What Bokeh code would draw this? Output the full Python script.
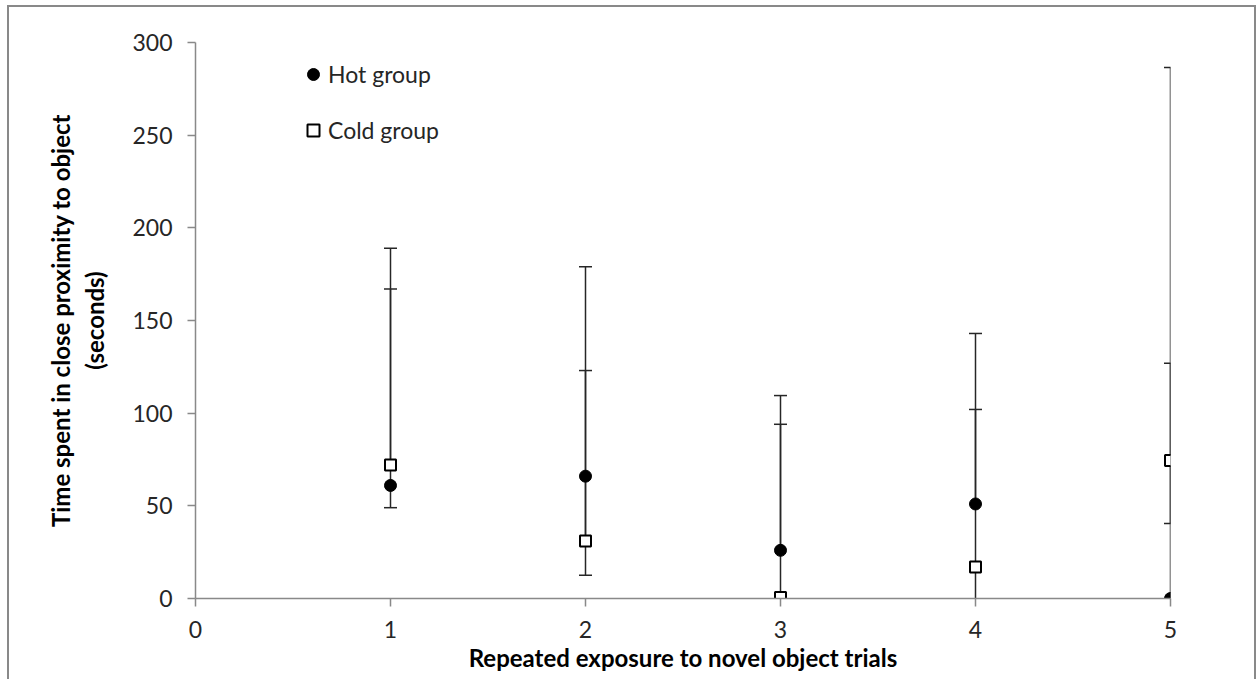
import numpy as np
from bokeh.plotting import figure
from bokeh.models import (ColumnDataSource, Legend, LegendItem,
                          Range1d, FixedTicker)
from bokeh.embed import file_html
from bokeh.resources import INLINE

NaN = float("nan")

# ---- data ----
trials = [1, 2, 3, 4, 5]
hot_mean = [61, 66, 26, 51, 0]
cold_mean = [72, 31, 0.5, 17, 74.5]
hot_upper = [167, 123, 94, 102, 127]
hot_lower = [49, 12.5, NaN, NaN, NaN]        # NaN: no lower bar drawn
cold_upper = [189, 179, 109.5, 143, 286.5]
cold_lower = [NaN, NaN, NaN, -109, 40.5]     # below 0 is clipped by the axis
x_ticks = [0, 1, 2, 3, 4, 5]
y_ticks = [0, 50, 100, 150, 200, 250, 300]

FONT = "Lato"
AXIS_GRAY = "#898989"
BAR = "#262626"

p = figure(width=1259, height=679, output_backend="svg", toolbar_location=None,
           x_range=Range1d(0, 5), y_range=Range1d(0, 300),
           min_border_left=195, min_border_right=89, min_border_top=42,
           min_border_bottom=81)
p.background_fill_color = "white"
p.border_fill_alpha = 0
p.outline_line_color = None
p.xgrid.visible = False
p.ygrid.visible = False
# chart-area border (left, top, right; bottom lies outside the picture)
p.styles = {
    "background-color": "white",
    "background-image": ("linear-gradient(#898989,#898989),"
                         "linear-gradient(#898989,#898989),"
                         "linear-gradient(#898989,#898989)"),
    "background-size": "2px 100%, 1249px 2px, 2px 100%",
    "background-position": "7px 5px, 7px 5px, 1254px 5px",
    "background-repeat": "no-repeat",
}

def make_source(mean, lo, hi):
    return ColumnDataSource(dict(x=np.array(trials, dtype=float),
                                 y=np.array(mean, dtype=float),
                                 lo=np.array(lo, dtype=float),
                                 hi=np.array(hi, dtype=float)))

hot = make_source(hot_mean, hot_lower, hot_upper)
cold = make_source(cold_mean, cold_lower, cold_upper)

for src in (hot, cold):
    p.segment(x0="x", y0="y", x1="x", y1="hi", source=src,
              line_color=BAR, line_width=1.5)
    p.segment(x0="x", y0="y", x1="x", y1="lo", source=src,
              line_color=BAR, line_width=1.5)
    p.scatter(x="x", y="hi", source=src, marker="dash", size=13,
              line_color=BAR, line_width=1.5)
    p.scatter(x="x", y="lo", source=src, marker="dash", size=13,
              line_color=BAR, line_width=1.5)

cold_r = p.scatter(x="x", y="y", source=cold, marker="square", size=11,
                   fill_color="white", line_color="black", line_width=2)
hot_r = p.scatter(x="x", y="y", source=hot, marker="circle", size=12,
                  fill_color="black", line_color="black")

# axes
for ax in (p.xaxis[0], p.yaxis[0]):
    ax.axis_line_color = AXIS_GRAY
    ax.axis_line_width = 1.5
    ax.major_tick_line_color = AXIS_GRAY
    ax.major_tick_line_width = 1.5
    ax.major_tick_out = 8
    ax.major_tick_in = 0
    ax.minor_tick_line_color = None
    ax.major_label_text_font = FONT
    ax.major_label_text_font_size = "23px"
    ax.major_label_text_color = "#262626"
    ax.axis_label_text_font = FONT
    ax.axis_label_text_font_size = "24px"
    ax.axis_label_text_font_style = "bold"
    ax.axis_label_text_color = "black"

p.xaxis[0].ticker = FixedTicker(ticks=x_ticks)
p.yaxis[0].ticker = FixedTicker(ticks=y_ticks)
p.xaxis[0].major_label_standoff = 14
p.xaxis[0].axis_label = "Repeated exposure to novel object trials"
p.xaxis[0].axis_label_standoff = 2
p.yaxis[0].major_label_standoff = 15
p.yaxis[0].axis_label = "Time spent in close proximity to object\n(seconds)"
p.yaxis[0].axis_label_standoff = 20

legend = Legend(items=[LegendItem(label="Hot group", renderers=[hot_r]),
                       LegendItem(label="Cold group", renderers=[cold_r])],
                location=(103, 453), border_line_color=None,
                background_fill_alpha=0, padding=0, margin=0, spacing=26,
                glyph_width=30, glyph_height=30, label_standoff=0,
                label_text_font=FONT, label_text_font_size="23px",
                label_text_color="#262626")
p.add_layout(legend)

open("out.html", "w").write(file_html(p, INLINE))
